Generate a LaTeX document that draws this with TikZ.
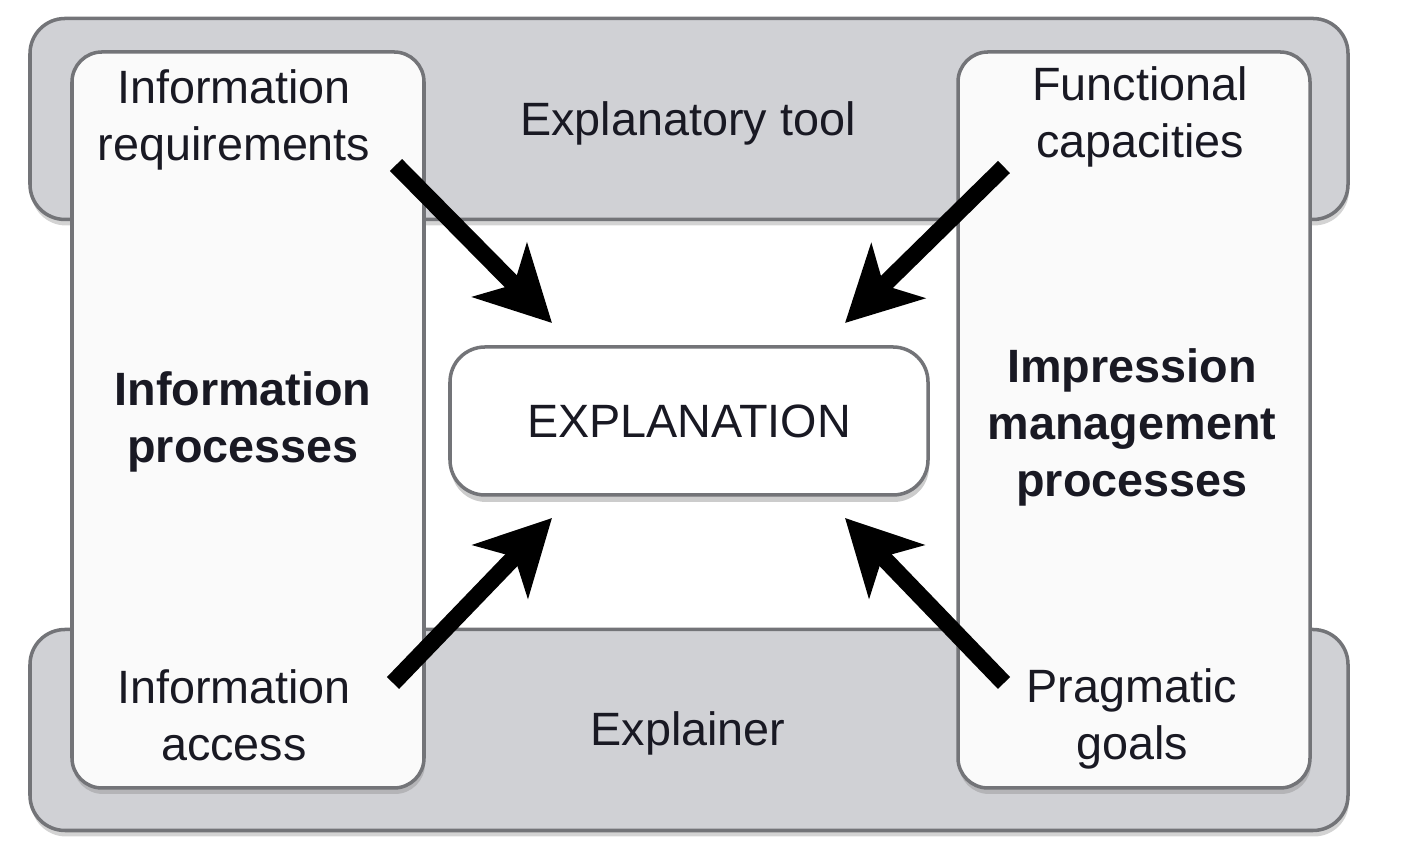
\documentclass[tikz,border=0pt]{standalone}
\usepackage{fontspec}
\setmainfont{Liberation Sans}
\usetikzlibrary{arrows.meta, shadows}

\definecolor{bargray}{RGB}{208,209,213}
\definecolor{edgegray}{RGB}{115,116,120}
\definecolor{panelwhite}{RGB}{250,250,250}
\definecolor{inkdark}{RGB}{25,25,35}

\tikzset{
	bar/.style={draw=edgegray, line width=1pt, fill=bargray, rounded corners=0.35cm,
		minimum width=13.18cm, minimum height=2.01cm,
		drop shadow={shadow xshift=0.01cm, shadow yshift=-0.06cm, opacity=0.35}},
	panel/.style={draw=edgegray, line width=1pt, fill=panelwhite, rounded corners=0.3cm,
		minimum width=3.52cm, minimum height=7.36cm,
		drop shadow={shadow xshift=0.01cm, shadow yshift=-0.06cm, opacity=0.35}},
	centerbox/.style={draw=edgegray, line width=1pt, fill=white, rounded corners=0.35cm,
		minimum width=4.78cm, minimum height=1.48cm, text=inkdark, font=\lbl,
		drop shadow={shadow xshift=0.01cm, shadow yshift=-0.07cm, opacity=0.4}},
	lbl/.style={align=center, text=inkdark, font=\lbl},
	bigarrow/.style={line width=0.17cm, black,
		-{Stealth[length=0.74cm, width=0.76cm, inset=0.2cm]}}
}
\newcommand{\lbl}{\fontsize{13.3}{16.2}\selectfont}

\begin{document}
\begin{tikzpicture}
	\useasboundingbox (0,0) rectangle (14.06,8.58);
	% background bars and side panels
	\node[bar] (toolbar) at (6.89, 7.39) {};
	\node[bar] (explbar) at (6.89, 1.28) {};
	\node[panel] (infopanel) at (2.48, 4.38) {};
	\node[panel] (imppanel) at (11.34, 4.38) {};
	\node[centerbox] (expl) at (6.89, 4.37) {EXPLANATION};
	% texts
	\node[lbl] (inforeq) at (2.34, 7.38) {Information\\requirements};
	\node[lbl] (funccap) at (11.40, 7.41) {Functional\\capacities};
	\node[lbl] (tool) at (6.88, 7.35) {Explanatory tool};
	\node[lbl] (infoproc) at (2.43, 4.36) {\bfseries Information\\\bfseries processes};
	\node[lbl] (impproc) at (11.32, 4.31) {\bfseries Impression\\\bfseries management\\\bfseries processes};
	\node[lbl] (infoacc) at (2.34, 1.43) {Information\\access};
	\node[lbl] (prag) at (11.32, 1.39) {Pragmatic\\goals};
	\node[lbl] (explainer) at (6.88, 1.25) {Explainer};
	% arrow ends
	\coordinate (reqend) at (3.96, 6.93);
	\coordinate (capend) at (10.04, 6.91);
	\coordinate (accend) at (3.93, 1.75);
	\coordinate (pragend) at (10.04, 1.75);
	\coordinate (tipnw) at (5.52, 5.35);
	\coordinate (tipne) at (8.45, 5.35);
	\coordinate (tipsw) at (5.52, 3.40);
	\coordinate (tipse) at (8.45, 3.40);
	\draw[bigarrow] (reqend) -- (tipnw);
	\draw[bigarrow] (capend) -- (tipne);
	\draw[bigarrow] (accend) -- (tipsw);
	\draw[bigarrow] (pragend) -- (tipse);
\end{tikzpicture}
\end{document}
